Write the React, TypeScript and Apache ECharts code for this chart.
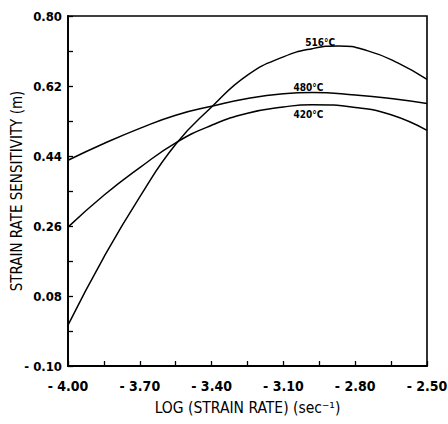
import React, { useEffect, useRef } from "react";
import * as echarts from "echarts";

const x516 = [-4.0, -3.85, -3.7, -3.55, -3.4, -3.25, -3.1, -2.98, -2.87, -2.75, -2.62, -2.5];
const m516 = [0.005, 0.18, 0.335, 0.47, 0.566, 0.648, 0.695, 0.716, 0.723, 0.711, 0.679, 0.637];
const x480 = [-4.0, -3.85, -3.7, -3.55, -3.4, -3.25, -3.1, -2.98, -2.8, -2.65, -2.5];
const m480 = [0.429, 0.472, 0.511, 0.545, 0.568, 0.588, 0.6, 0.603, 0.597, 0.588, 0.575];
const x420 = [-4.0, -3.85, -3.7, -3.55, -3.4, -3.25, -3.1, -2.98, -2.8, -2.65, -2.5];
const m420 = [0.257, 0.339, 0.41, 0.474, 0.519, 0.55, 0.566, 0.572, 0.565, 0.546, 0.506];

const seriesNames = ["516°C", "480°C", "420°C"];
const labelX = [-2.946, -2.995, -2.995];
const labelY = [0.733, 0.617, 0.546];

const xTickValues = [-4.0, -3.85, -3.7, -3.55, -3.4, -3.25, -3.1, -2.95, -2.8, -2.65, -2.5];
const xLabelValues = [-4.0, -3.7, -3.4, -3.1, -2.8, -2.5];
const yTickValues = [-0.1, -0.01, 0.08, 0.17, 0.26, 0.35, 0.44, 0.53, 0.62, 0.71, 0.8];
const yLabelValues = [-0.1, 0.08, 0.26, 0.44, 0.62, 0.8];

const FONT = "'DejaVu Sans Condensed', 'Liberation Sans Narrow', 'DejaVu Sans', sans-serif";

export default function App() {
  const ref = useRef<HTMLDivElement>(null);
  useEffect(() => {
    if (!ref.current) return;
    const chart = echarts.init(ref.current, undefined, { renderer: "svg" });
    const xs = [x516, x480, x420];
    const ys = [m516, m480, m420];
    const fmt = (v: number) => (v < 0 ? "- " + Math.abs(v).toFixed(2) : v.toFixed(2));
    chart.setOption({
      animation: false,
      backgroundColor: "#ffffff",
      grid: {
        left: 68,
        right: 21,
        top: 16,
        bottom: 58,
        show: true,
        borderColor: "#000",
        borderWidth: 1.6,
        backgroundColor: "transparent",
        containLabel: false,
        outerBoundsMode: "none",
      },
      xAxis: {
        type: "value",
        min: -4.0,
        max: -2.5,
        name: "LOG (STRAIN RATE) (sec⁻¹)",
        nameLocation: "middle",
        nameGap: 34,
        nameMoveOverlap: false,
        nameTextStyle: { color: "#000", fontFamily: FONT, fontSize: 15.5 },
        axisLine: { show: true, onZero: false, lineStyle: { color: "#000", width: 1.8 } },
        axisTick: { show: true, inside: true, length: 5, customValues: xTickValues, lineStyle: { color: "#000", width: 1.3 } },
        axisLabel: {
          show: true,
          customValues: xLabelValues,
          formatter: (v: number) => fmt(v),
          color: "#000",
          fontFamily: FONT,
          fontWeight: "bold",
          fontSize: 14,
          margin: 13,
        },
        splitLine: { show: false },
      },
      yAxis: {
        type: "value",
        min: -0.1,
        max: 0.8,
        name: "STRAIN RATE SENSITIVITY (m)",
        nameLocation: "middle",
        nameGap: 44,
        nameMoveOverlap: false,
        nameTextStyle: { color: "#000", fontFamily: FONT, fontSize: 15 },
        axisLine: { show: true, onZero: false, lineStyle: { color: "#000", width: 1.8 } },
        axisTick: { show: true, inside: true, length: 5, customValues: yTickValues, lineStyle: { color: "#000", width: 1.3 } },
        axisLabel: {
          show: true,
          customValues: yLabelValues,
          formatter: (v: number) => fmt(v),
          color: "#000",
          fontFamily: FONT,
          fontWeight: "bold",
          fontSize: 13,
          margin: 6,
        },
        splitLine: { show: false },
      },
      series: ys.map((vals, i) => ({
        name: seriesNames[i],
        type: "line",
        smooth: 0.5,
        showSymbol: false,
        symbol: "none",
        data: xs[i].map((x, j) => [x, vals[j]]),
        lineStyle: { color: "#000", width: 1.5 },
        markPoint: {
          symbol: "circle",
          symbolSize: 1,
          itemStyle: { color: "rgba(0,0,0,0)" },
          label: {
            show: true,
            position: "inside",
            formatter: seriesNames[i],
            color: "#000",
            fontFamily: FONT,
            fontWeight: "bold",
            fontSize: 10,
          },
          data: [{ coord: [labelX[i], labelY[i]] }],
        },
      })),
    });
    return () => chart.dispose();
  }, []);
  return (
    <div
      ref={ref}
      style={{ position: "fixed", left: 0, top: 0, width: 448, height: 424, background: "#fff" }}
    />
  );
}
